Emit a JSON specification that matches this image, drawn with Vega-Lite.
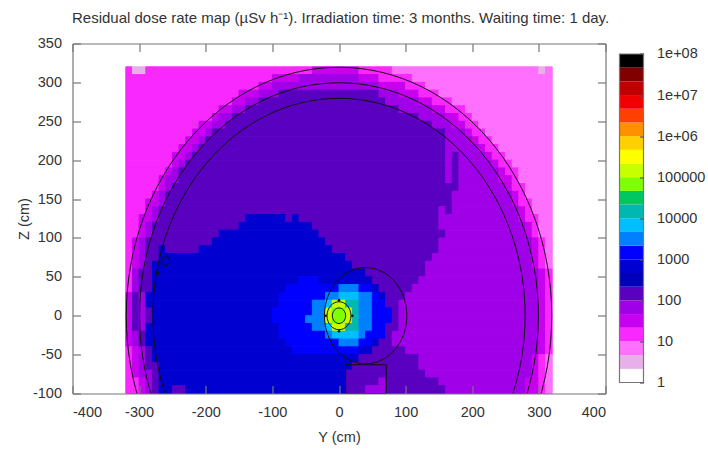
{"$schema":"https://vega.github.io/schema/vega-lite/v6.json","padding":{"left":15.5,"top":10.5,"right":0,"bottom":8},"background":"white","config":{"view":{"stroke":null},"font":"Liberation Sans","axis":{"labelFont":"Liberation Sans","titleFont":"Liberation Sans","labelFontSize":14.5,"titleFontSize":14.5,"labelColor":"#333","titleColor":"#333","titleFontWeight":"normal","grid":false,"domainColor":"#777","tickColor":"#777","domainWidth":1.2,"tickWidth":1.2}},"title":{"text":"Residual dose rate map (µSv h⁻¹). Irradiation time: 3 months. Waiting time: 1 day.","fontSize":15,"fontWeight":"normal","color":"#333","font":"Liberation Sans","anchor":"start","offset":9.5,"dx":55.5},"spacing":12,"hconcat":[{"width":533,"height":350,"resolve":{"axis":{"x":"independent","y":"independent"}},"layer":[{"data":{"values":[
{"x":-320,"x2":-310,"z":310,"z2":320,"d":15},{"x":-310,"x2":-290,"z":310,"z2":320,"d":3},{"x":-290,"x2":-40,"z":310,"z2":320,"d":15},{"x":-40,"x2":30,"z":310,"z2":320,"d":30},{"x":30,"x2":80,"z":310,"z2":320,"d":15},{"x":80,"x2":300,"z":310,"z2":320,"d":7},{"x":300,"x2":310,"z":310,"z2":320,"d":3},{"x":310,"x2":320,"z":310,"z2":320,"d":7},
{"x":-320,"x2":-100,"z":300,"z2":310,"d":15},{"x":-100,"x2":-60,"z":300,"z2":310,"d":30},{"x":-60,"x2":30,"z":300,"z2":310,"d":70},{"x":30,"x2":60,"z":300,"z2":310,"d":30},{"x":60,"x2":110,"z":300,"z2":310,"d":15},{"x":110,"x2":320,"z":300,"z2":310,"d":7},
{"x":-320,"x2":-120,"z":290,"z2":300,"d":15},{"x":-120,"x2":-100,"z":290,"z2":300,"d":30},{"x":-100,"x2":60,"z":290,"z2":300,"d":70},{"x":60,"x2":100,"z":290,"z2":300,"d":30},{"x":100,"x2":130,"z":290,"z2":300,"d":15},{"x":130,"x2":320,"z":290,"z2":300,"d":7},
{"x":-320,"x2":-150,"z":280,"z2":290,"d":15},{"x":-150,"x2":-120,"z":280,"z2":290,"d":30},{"x":-120,"x2":-90,"z":280,"z2":290,"d":70},{"x":-90,"x2":60,"z":280,"z2":290,"d":150},{"x":60,"x2":90,"z":280,"z2":290,"d":70},{"x":90,"x2":120,"z":280,"z2":290,"d":30},{"x":120,"x2":150,"z":280,"z2":290,"d":15},{"x":150,"x2":320,"z":280,"z2":290,"d":7},
{"x":-320,"x2":-160,"z":270,"z2":280,"d":15},{"x":-160,"x2":-140,"z":270,"z2":280,"d":30},{"x":-140,"x2":-120,"z":270,"z2":280,"d":70},{"x":-120,"x2":70,"z":270,"z2":280,"d":150},{"x":70,"x2":120,"z":270,"z2":280,"d":70},{"x":120,"x2":140,"z":270,"z2":280,"d":30},{"x":140,"x2":170,"z":270,"z2":280,"d":15},{"x":170,"x2":320,"z":270,"z2":280,"d":7},
{"x":-320,"x2":-180,"z":260,"z2":270,"d":15},{"x":-180,"x2":-160,"z":260,"z2":270,"d":30},{"x":-160,"x2":-140,"z":260,"z2":270,"d":70},{"x":-140,"x2":90,"z":260,"z2":270,"d":150},{"x":90,"x2":140,"z":260,"z2":270,"d":70},{"x":140,"x2":160,"z":260,"z2":270,"d":30},{"x":160,"x2":190,"z":260,"z2":270,"d":15},{"x":190,"x2":320,"z":260,"z2":270,"d":7},
{"x":-320,"x2":-190,"z":250,"z2":260,"d":15},{"x":-190,"x2":-180,"z":250,"z2":260,"d":30},{"x":-180,"x2":-160,"z":250,"z2":260,"d":70},{"x":-160,"x2":120,"z":250,"z2":260,"d":150},{"x":120,"x2":160,"z":250,"z2":260,"d":70},{"x":160,"x2":180,"z":250,"z2":260,"d":30},{"x":180,"x2":200,"z":250,"z2":260,"d":15},{"x":200,"x2":320,"z":250,"z2":260,"d":7},
{"x":-320,"x2":-210,"z":240,"z2":250,"d":15},{"x":-210,"x2":-190,"z":240,"z2":250,"d":30},{"x":-190,"x2":-170,"z":240,"z2":250,"d":70},{"x":-170,"x2":140,"z":240,"z2":250,"d":150},{"x":140,"x2":170,"z":240,"z2":250,"d":70},{"x":170,"x2":190,"z":240,"z2":250,"d":30},{"x":190,"x2":210,"z":240,"z2":250,"d":15},{"x":210,"x2":320,"z":240,"z2":250,"d":7},
{"x":-320,"x2":-220,"z":230,"z2":240,"d":15},{"x":-220,"x2":-200,"z":230,"z2":240,"d":30},{"x":-200,"x2":-190,"z":230,"z2":240,"d":70},{"x":-190,"x2":160,"z":230,"z2":240,"d":150},{"x":160,"x2":190,"z":230,"z2":240,"d":70},{"x":190,"x2":200,"z":230,"z2":240,"d":30},{"x":200,"x2":220,"z":230,"z2":240,"d":15},{"x":220,"x2":320,"z":230,"z2":240,"d":7},
{"x":-320,"x2":-230,"z":220,"z2":230,"d":15},{"x":-230,"x2":-210,"z":220,"z2":230,"d":30},{"x":-210,"x2":-200,"z":220,"z2":230,"d":70},{"x":-200,"x2":160,"z":220,"z2":230,"d":150},{"x":160,"x2":200,"z":220,"z2":230,"d":70},{"x":200,"x2":210,"z":220,"z2":230,"d":30},{"x":210,"x2":230,"z":220,"z2":230,"d":15},{"x":230,"x2":320,"z":220,"z2":230,"d":7},
{"x":-320,"x2":-240,"z":210,"z2":220,"d":15},{"x":-240,"x2":-220,"z":210,"z2":220,"d":30},{"x":-220,"x2":-210,"z":210,"z2":220,"d":70},{"x":-210,"x2":160,"z":210,"z2":220,"d":150},{"x":160,"x2":210,"z":210,"z2":220,"d":70},{"x":210,"x2":220,"z":210,"z2":220,"d":30},{"x":220,"x2":240,"z":210,"z2":220,"d":15},{"x":240,"x2":320,"z":210,"z2":220,"d":7},
{"x":-320,"x2":-250,"z":200,"z2":210,"d":15},{"x":-250,"x2":-230,"z":200,"z2":210,"d":30},{"x":-230,"x2":-220,"z":200,"z2":210,"d":70},{"x":-220,"x2":160,"z":200,"z2":210,"d":150},{"x":160,"x2":170,"z":200,"z2":210,"d":70},{"x":170,"x2":180,"z":200,"z2":210,"d":150},{"x":180,"x2":220,"z":200,"z2":210,"d":70},{"x":220,"x2":230,"z":200,"z2":210,"d":30},{"x":230,"x2":250,"z":200,"z2":210,"d":15},{"x":250,"x2":320,"z":200,"z2":210,"d":7},
{"x":-320,"x2":-250,"z":190,"z2":200,"d":15},{"x":-250,"x2":-240,"z":190,"z2":200,"d":30},{"x":-240,"x2":-230,"z":190,"z2":200,"d":70},{"x":-230,"x2":160,"z":190,"z2":200,"d":150},{"x":160,"x2":170,"z":190,"z2":200,"d":70},{"x":170,"x2":180,"z":190,"z2":200,"d":150},{"x":180,"x2":230,"z":190,"z2":200,"d":70},{"x":230,"x2":240,"z":190,"z2":200,"d":30},{"x":240,"x2":260,"z":190,"z2":200,"d":15},{"x":260,"x2":320,"z":190,"z2":200,"d":7},
{"x":-320,"x2":-260,"z":180,"z2":190,"d":15},{"x":-260,"x2":-250,"z":180,"z2":190,"d":30},{"x":-250,"x2":-240,"z":180,"z2":190,"d":70},{"x":-240,"x2":160,"z":180,"z2":190,"d":150},{"x":160,"x2":170,"z":180,"z2":190,"d":70},{"x":170,"x2":180,"z":180,"z2":190,"d":150},{"x":180,"x2":240,"z":180,"z2":190,"d":70},{"x":240,"x2":250,"z":180,"z2":190,"d":30},{"x":250,"x2":270,"z":180,"z2":190,"d":15},{"x":270,"x2":320,"z":180,"z2":190,"d":7},
{"x":-320,"x2":-270,"z":170,"z2":180,"d":15},{"x":-270,"x2":-260,"z":170,"z2":180,"d":30},{"x":-260,"x2":-240,"z":170,"z2":180,"d":70},{"x":-240,"x2":160,"z":170,"z2":180,"d":150},{"x":160,"x2":170,"z":170,"z2":180,"d":70},{"x":170,"x2":180,"z":170,"z2":180,"d":150},{"x":180,"x2":240,"z":170,"z2":180,"d":70},{"x":240,"x2":260,"z":170,"z2":180,"d":30},{"x":260,"x2":270,"z":170,"z2":180,"d":15},{"x":270,"x2":320,"z":170,"z2":180,"d":7},
{"x":-320,"x2":-270,"z":160,"z2":170,"d":15},{"x":-270,"x2":-260,"z":160,"z2":170,"d":30},{"x":-260,"x2":-250,"z":160,"z2":170,"d":70},{"x":-250,"x2":180,"z":160,"z2":170,"d":150},{"x":180,"x2":250,"z":160,"z2":170,"d":70},{"x":250,"x2":260,"z":160,"z2":170,"d":30},{"x":260,"x2":280,"z":160,"z2":170,"d":15},{"x":280,"x2":320,"z":160,"z2":170,"d":7},
{"x":-320,"x2":-280,"z":150,"z2":160,"d":15},{"x":-280,"x2":-270,"z":150,"z2":160,"d":30},{"x":-270,"x2":-260,"z":150,"z2":160,"d":70},{"x":-260,"x2":170,"z":150,"z2":160,"d":150},{"x":170,"x2":260,"z":150,"z2":160,"d":70},{"x":260,"x2":270,"z":150,"z2":160,"d":30},{"x":270,"x2":280,"z":150,"z2":160,"d":15},{"x":280,"x2":320,"z":150,"z2":160,"d":7},
{"x":-320,"x2":-290,"z":140,"z2":150,"d":15},{"x":-290,"x2":-270,"z":140,"z2":150,"d":30},{"x":-270,"x2":-260,"z":140,"z2":150,"d":70},{"x":-260,"x2":170,"z":140,"z2":150,"d":150},{"x":170,"x2":260,"z":140,"z2":150,"d":70},{"x":260,"x2":270,"z":140,"z2":150,"d":30},{"x":270,"x2":290,"z":140,"z2":150,"d":15},{"x":290,"x2":320,"z":140,"z2":150,"d":7},
{"x":-320,"x2":-290,"z":130,"z2":140,"d":15},{"x":-290,"x2":-280,"z":130,"z2":140,"d":30},{"x":-280,"x2":-270,"z":130,"z2":140,"d":70},{"x":-270,"x2":150,"z":130,"z2":140,"d":150},{"x":150,"x2":160,"z":130,"z2":140,"d":70},{"x":160,"x2":170,"z":130,"z2":140,"d":150},{"x":170,"x2":270,"z":130,"z2":140,"d":70},{"x":270,"x2":280,"z":130,"z2":140,"d":30},{"x":280,"x2":290,"z":130,"z2":140,"d":15},{"x":290,"x2":320,"z":130,"z2":140,"d":7},
{"x":-320,"x2":-300,"z":120,"z2":130,"d":15},{"x":-300,"x2":-280,"z":120,"z2":130,"d":30},{"x":-280,"x2":-270,"z":120,"z2":130,"d":70},{"x":-270,"x2":-140,"z":120,"z2":130,"d":150},{"x":-140,"x2":-80,"z":120,"z2":130,"d":700},{"x":-80,"x2":-70,"z":120,"z2":130,"d":150},{"x":-70,"x2":-60,"z":120,"z2":130,"d":700},{"x":-60,"x2":150,"z":120,"z2":130,"d":150},{"x":150,"x2":270,"z":120,"z2":130,"d":70},{"x":270,"x2":280,"z":120,"z2":130,"d":30},{"x":280,"x2":300,"z":120,"z2":130,"d":15},{"x":300,"x2":320,"z":120,"z2":130,"d":7},
{"x":-320,"x2":-300,"z":110,"z2":120,"d":15},{"x":-300,"x2":-290,"z":110,"z2":120,"d":30},{"x":-290,"x2":-280,"z":110,"z2":120,"d":70},{"x":-280,"x2":-150,"z":110,"z2":120,"d":150},{"x":-150,"x2":-40,"z":110,"z2":120,"d":700},{"x":-40,"x2":150,"z":110,"z2":120,"d":150},{"x":150,"x2":280,"z":110,"z2":120,"d":70},{"x":280,"x2":290,"z":110,"z2":120,"d":30},{"x":290,"x2":300,"z":110,"z2":120,"d":15},{"x":300,"x2":320,"z":110,"z2":120,"d":7},
{"x":-320,"x2":-300,"z":100,"z2":110,"d":15},{"x":-300,"x2":-290,"z":100,"z2":110,"d":30},{"x":-290,"x2":-280,"z":100,"z2":110,"d":70},{"x":-280,"x2":-180,"z":100,"z2":110,"d":150},{"x":-180,"x2":-30,"z":100,"z2":110,"d":700},{"x":-30,"x2":160,"z":100,"z2":110,"d":150},{"x":160,"x2":280,"z":100,"z2":110,"d":70},{"x":280,"x2":290,"z":100,"z2":110,"d":30},{"x":290,"x2":300,"z":100,"z2":110,"d":15},{"x":300,"x2":320,"z":100,"z2":110,"d":7},
{"x":-320,"x2":-310,"z":90,"z2":100,"d":15},{"x":-310,"x2":-300,"z":90,"z2":100,"d":30},{"x":-300,"x2":-290,"z":90,"z2":100,"d":70},{"x":-290,"x2":-190,"z":90,"z2":100,"d":150},{"x":-190,"x2":-20,"z":90,"z2":100,"d":700},{"x":-20,"x2":150,"z":90,"z2":100,"d":150},{"x":150,"x2":290,"z":90,"z2":100,"d":70},{"x":290,"x2":300,"z":90,"z2":100,"d":30},{"x":300,"x2":310,"z":90,"z2":100,"d":15},{"x":310,"x2":320,"z":90,"z2":100,"d":7},
{"x":-320,"x2":-310,"z":80,"z2":90,"d":15},{"x":-310,"x2":-300,"z":80,"z2":90,"d":30},{"x":-300,"x2":-290,"z":80,"z2":90,"d":70},{"x":-290,"x2":-270,"z":80,"z2":90,"d":150},{"x":-270,"x2":-260,"z":80,"z2":90,"d":700},{"x":-260,"x2":-210,"z":80,"z2":90,"d":150},{"x":-210,"x2":-10,"z":80,"z2":90,"d":700},{"x":-10,"x2":150,"z":80,"z2":90,"d":150},{"x":150,"x2":290,"z":80,"z2":90,"d":70},{"x":290,"x2":300,"z":80,"z2":90,"d":30},{"x":300,"x2":310,"z":80,"z2":90,"d":15},{"x":310,"x2":320,"z":80,"z2":90,"d":7},
{"x":-320,"x2":-310,"z":70,"z2":80,"d":15},{"x":-310,"x2":-300,"z":70,"z2":80,"d":30},{"x":-300,"x2":-290,"z":70,"z2":80,"d":70},{"x":-290,"x2":-270,"z":70,"z2":80,"d":150},{"x":-270,"x2":10,"z":70,"z2":80,"d":700},{"x":10,"x2":140,"z":70,"z2":80,"d":150},{"x":140,"x2":290,"z":70,"z2":80,"d":70},{"x":290,"x2":300,"z":70,"z2":80,"d":30},{"x":300,"x2":310,"z":70,"z2":80,"d":15},{"x":310,"x2":320,"z":70,"z2":80,"d":7},
{"x":-320,"x2":-310,"z":60,"z2":70,"d":15},{"x":-310,"x2":-300,"z":60,"z2":70,"d":30},{"x":-300,"x2":-290,"z":60,"z2":70,"d":70},{"x":-290,"x2":-280,"z":60,"z2":70,"d":150},{"x":-280,"x2":20,"z":60,"z2":70,"d":700},{"x":20,"x2":130,"z":60,"z2":70,"d":150},{"x":130,"x2":290,"z":60,"z2":70,"d":70},{"x":290,"x2":300,"z":60,"z2":70,"d":30},{"x":300,"x2":310,"z":60,"z2":70,"d":15},{"x":310,"x2":320,"z":60,"z2":70,"d":7},
{"x":-320,"x2":-310,"z":50,"z2":60,"d":15},{"x":-310,"x2":-300,"z":50,"z2":60,"d":70},{"x":-300,"x2":-280,"z":50,"z2":60,"d":150},{"x":-280,"x2":40,"z":50,"z2":60,"d":700},{"x":40,"x2":130,"z":50,"z2":60,"d":150},{"x":130,"x2":300,"z":50,"z2":60,"d":70},{"x":300,"x2":310,"z":50,"z2":60,"d":30},{"x":310,"x2":320,"z":50,"z2":60,"d":15},
{"x":-320,"x2":-310,"z":40,"z2":50,"d":15},{"x":-310,"x2":-300,"z":40,"z2":50,"d":70},{"x":-300,"x2":-280,"z":40,"z2":50,"d":150},{"x":-280,"x2":-60,"z":40,"z2":50,"d":700},{"x":-60,"x2":-30,"z":40,"z2":50,"d":1500},{"x":-30,"x2":50,"z":40,"z2":50,"d":700},{"x":50,"x2":120,"z":40,"z2":50,"d":150},{"x":120,"x2":300,"z":40,"z2":50,"d":70},{"x":300,"x2":310,"z":40,"z2":50,"d":30},{"x":310,"x2":320,"z":40,"z2":50,"d":15},
{"x":-320,"x2":-310,"z":30,"z2":40,"d":15},{"x":-310,"x2":-300,"z":30,"z2":40,"d":70},{"x":-300,"x2":-280,"z":30,"z2":40,"d":150},{"x":-280,"x2":-80,"z":30,"z2":40,"d":700},{"x":-80,"x2":0,"z":30,"z2":40,"d":1500},{"x":0,"x2":30,"z":30,"z2":40,"d":3000},{"x":30,"x2":50,"z":30,"z2":40,"d":1500},{"x":50,"x2":60,"z":30,"z2":40,"d":700},{"x":60,"x2":110,"z":30,"z2":40,"d":150},{"x":110,"x2":300,"z":30,"z2":40,"d":70},{"x":300,"x2":310,"z":30,"z2":40,"d":30},{"x":310,"x2":320,"z":30,"z2":40,"d":15},
{"x":-320,"x2":-310,"z":20,"z2":30,"d":30},{"x":-310,"x2":-300,"z":20,"z2":30,"d":150},{"x":-300,"x2":-290,"z":20,"z2":30,"d":70},{"x":-290,"x2":-90,"z":20,"z2":30,"d":700},{"x":-90,"x2":-20,"z":20,"z2":30,"d":1500},{"x":-20,"x2":0,"z":20,"z2":30,"d":3000},{"x":0,"x2":30,"z":20,"z2":30,"d":7000},{"x":30,"x2":50,"z":20,"z2":30,"d":3000},{"x":50,"x2":60,"z":20,"z2":30,"d":1500},{"x":60,"x2":70,"z":20,"z2":30,"d":700},{"x":70,"x2":100,"z":20,"z2":30,"d":150},{"x":100,"x2":300,"z":20,"z2":30,"d":70},{"x":300,"x2":310,"z":20,"z2":30,"d":30},{"x":310,"x2":320,"z":20,"z2":30,"d":15},
{"x":-320,"x2":-310,"z":10,"z2":20,"d":30},{"x":-310,"x2":-300,"z":10,"z2":20,"d":150},{"x":-300,"x2":-290,"z":10,"z2":20,"d":70},{"x":-290,"x2":-90,"z":10,"z2":20,"d":700},{"x":-90,"x2":-40,"z":10,"z2":20,"d":1500},{"x":-40,"x2":-20,"z":10,"z2":20,"d":3000},{"x":-20,"x2":-10,"z":10,"z2":20,"d":7000},{"x":-10,"x2":10,"z":10,"z2":20,"d":150000},{"x":10,"x2":30,"z":10,"z2":20,"d":15000},{"x":30,"x2":50,"z":10,"z2":20,"d":3000},{"x":50,"x2":70,"z":10,"z2":20,"d":1500},{"x":70,"x2":90,"z":10,"z2":20,"d":150},{"x":90,"x2":300,"z":10,"z2":20,"d":70},{"x":300,"x2":310,"z":10,"z2":20,"d":30},{"x":310,"x2":320,"z":10,"z2":20,"d":15},
{"x":-320,"x2":-310,"z":0,"z2":10,"d":30},{"x":-310,"x2":-300,"z":0,"z2":10,"d":150},{"x":-300,"x2":-290,"z":0,"z2":10,"d":70},{"x":-290,"x2":-280,"z":0,"z2":10,"d":150},{"x":-280,"x2":-100,"z":0,"z2":10,"d":700},{"x":-100,"x2":-40,"z":0,"z2":10,"d":1500},{"x":-40,"x2":-20,"z":0,"z2":10,"d":3000},{"x":-20,"x2":-10,"z":0,"z2":10,"d":150000},{"x":-10,"x2":10,"z":0,"z2":10,"d":70000},{"x":10,"x2":20,"z":0,"z2":10,"d":150000},{"x":20,"x2":30,"z":0,"z2":10,"d":15000},{"x":30,"x2":50,"z":0,"z2":10,"d":3000},{"x":50,"x2":80,"z":0,"z2":10,"d":1500},{"x":80,"x2":90,"z":0,"z2":10,"d":150},{"x":90,"x2":300,"z":0,"z2":10,"d":70},{"x":300,"x2":310,"z":0,"z2":10,"d":30},{"x":310,"x2":320,"z":0,"z2":10,"d":15},
{"x":-320,"x2":-310,"z":-10,"z2":0,"d":30},{"x":-310,"x2":-300,"z":-10,"z2":0,"d":150},{"x":-300,"x2":-290,"z":-10,"z2":0,"d":70},{"x":-290,"x2":-280,"z":-10,"z2":0,"d":150},{"x":-280,"x2":-100,"z":-10,"z2":0,"d":700},{"x":-100,"x2":-50,"z":-10,"z2":0,"d":1500},{"x":-50,"x2":-20,"z":-10,"z2":0,"d":3000},{"x":-20,"x2":-10,"z":-10,"z2":0,"d":150000},{"x":-10,"x2":10,"z":-10,"z2":0,"d":70000},{"x":10,"x2":20,"z":-10,"z2":0,"d":150000},{"x":20,"x2":30,"z":-10,"z2":0,"d":15000},{"x":30,"x2":50,"z":-10,"z2":0,"d":3000},{"x":50,"x2":80,"z":-10,"z2":0,"d":1500},{"x":80,"x2":90,"z":-10,"z2":0,"d":150},{"x":90,"x2":300,"z":-10,"z2":0,"d":70},{"x":300,"x2":310,"z":-10,"z2":0,"d":30},{"x":310,"x2":320,"z":-10,"z2":0,"d":15},
{"x":-320,"x2":-310,"z":-20,"z2":-10,"d":30},{"x":-310,"x2":-300,"z":-20,"z2":-10,"d":150},{"x":-300,"x2":-290,"z":-20,"z2":-10,"d":70},{"x":-290,"x2":-90,"z":-20,"z2":-10,"d":700},{"x":-90,"x2":-40,"z":-20,"z2":-10,"d":1500},{"x":-40,"x2":-20,"z":-20,"z2":-10,"d":3000},{"x":-20,"x2":-10,"z":-20,"z2":-10,"d":7000},{"x":-10,"x2":10,"z":-20,"z2":-10,"d":150000},{"x":10,"x2":30,"z":-20,"z2":-10,"d":15000},{"x":30,"x2":50,"z":-20,"z2":-10,"d":3000},{"x":50,"x2":70,"z":-20,"z2":-10,"d":1500},{"x":70,"x2":90,"z":-20,"z2":-10,"d":150},{"x":90,"x2":300,"z":-20,"z2":-10,"d":70},{"x":300,"x2":310,"z":-20,"z2":-10,"d":30},{"x":310,"x2":320,"z":-20,"z2":-10,"d":15},
{"x":-320,"x2":-310,"z":-30,"z2":-20,"d":30},{"x":-310,"x2":-300,"z":-30,"z2":-20,"d":70},{"x":-300,"x2":-290,"z":-30,"z2":-20,"d":150},{"x":-290,"x2":-90,"z":-30,"z2":-20,"d":700},{"x":-90,"x2":-20,"z":-30,"z2":-20,"d":1500},{"x":-20,"x2":-10,"z":-30,"z2":-20,"d":3000},{"x":-10,"x2":30,"z":-30,"z2":-20,"d":7000},{"x":30,"x2":40,"z":-30,"z2":-20,"d":3000},{"x":40,"x2":70,"z":-30,"z2":-20,"d":1500},{"x":70,"x2":80,"z":-30,"z2":-20,"d":150},{"x":80,"x2":300,"z":-30,"z2":-20,"d":70},{"x":300,"x2":310,"z":-30,"z2":-20,"d":30},{"x":310,"x2":320,"z":-30,"z2":-20,"d":15},
{"x":-320,"x2":-310,"z":-40,"z2":-30,"d":30},{"x":-310,"x2":-300,"z":-40,"z2":-30,"d":70},{"x":-300,"x2":-290,"z":-40,"z2":-30,"d":150},{"x":-290,"x2":-80,"z":-40,"z2":-30,"d":700},{"x":-80,"x2":0,"z":-40,"z2":-30,"d":1500},{"x":0,"x2":30,"z":-40,"z2":-30,"d":3000},{"x":30,"x2":50,"z":-40,"z2":-30,"d":1500},{"x":50,"x2":60,"z":-40,"z2":-30,"d":700},{"x":60,"x2":80,"z":-40,"z2":-30,"d":150},{"x":80,"x2":300,"z":-40,"z2":-30,"d":70},{"x":300,"x2":310,"z":-40,"z2":-30,"d":30},{"x":310,"x2":320,"z":-40,"z2":-30,"d":15},
{"x":-320,"x2":-310,"z":-50,"z2":-40,"d":15},{"x":-310,"x2":-300,"z":-50,"z2":-40,"d":30},{"x":-300,"x2":-290,"z":-50,"z2":-40,"d":70},{"x":-290,"x2":-280,"z":-50,"z2":-40,"d":150},{"x":-280,"x2":-70,"z":-50,"z2":-40,"d":700},{"x":-70,"x2":30,"z":-50,"z2":-40,"d":1500},{"x":30,"x2":50,"z":-50,"z2":-40,"d":700},{"x":50,"x2":100,"z":-50,"z2":-40,"d":150},{"x":100,"x2":300,"z":-50,"z2":-40,"d":70},{"x":300,"x2":310,"z":-50,"z2":-40,"d":30},{"x":310,"x2":320,"z":-50,"z2":-40,"d":15},
{"x":-320,"x2":-310,"z":-60,"z2":-50,"d":15},{"x":-310,"x2":-300,"z":-60,"z2":-50,"d":30},{"x":-300,"x2":-290,"z":-60,"z2":-50,"d":70},{"x":-290,"x2":-280,"z":-60,"z2":-50,"d":150},{"x":-280,"x2":30,"z":-60,"z2":-50,"d":700},{"x":30,"x2":120,"z":-60,"z2":-50,"d":150},{"x":120,"x2":290,"z":-60,"z2":-50,"d":70},{"x":290,"x2":300,"z":-60,"z2":-50,"d":30},{"x":300,"x2":310,"z":-60,"z2":-50,"d":15},{"x":310,"x2":320,"z":-60,"z2":-50,"d":7},
{"x":-320,"x2":-310,"z":-70,"z2":-60,"d":15},{"x":-310,"x2":-300,"z":-70,"z2":-60,"d":30},{"x":-300,"x2":-290,"z":-70,"z2":-60,"d":70},{"x":-290,"x2":-270,"z":-70,"z2":-60,"d":150},{"x":-270,"x2":20,"z":-70,"z2":-60,"d":700},{"x":20,"x2":120,"z":-70,"z2":-60,"d":150},{"x":120,"x2":290,"z":-70,"z2":-60,"d":70},{"x":290,"x2":300,"z":-70,"z2":-60,"d":30},{"x":300,"x2":310,"z":-70,"z2":-60,"d":15},{"x":310,"x2":320,"z":-70,"z2":-60,"d":7},
{"x":-320,"x2":-310,"z":-80,"z2":-70,"d":15},{"x":-310,"x2":-300,"z":-80,"z2":-70,"d":30},{"x":-300,"x2":-280,"z":-80,"z2":-70,"d":70},{"x":-280,"x2":-270,"z":-80,"z2":-70,"d":150},{"x":-270,"x2":10,"z":-80,"z2":-70,"d":700},{"x":10,"x2":130,"z":-80,"z2":-70,"d":150},{"x":130,"x2":290,"z":-80,"z2":-70,"d":70},{"x":290,"x2":300,"z":-80,"z2":-70,"d":30},{"x":300,"x2":310,"z":-80,"z2":-70,"d":15},{"x":310,"x2":320,"z":-80,"z2":-70,"d":7},
{"x":-320,"x2":-300,"z":-90,"z2":-80,"d":15},{"x":-300,"x2":-290,"z":-90,"z2":-80,"d":30},{"x":-290,"x2":-280,"z":-90,"z2":-80,"d":70},{"x":-280,"x2":-270,"z":-90,"z2":-80,"d":150},{"x":-270,"x2":10,"z":-90,"z2":-80,"d":700},{"x":10,"x2":60,"z":-90,"z2":-80,"d":150},{"x":60,"x2":70,"z":-90,"z2":-80,"d":70},{"x":70,"x2":150,"z":-90,"z2":-80,"d":150},{"x":150,"x2":280,"z":-90,"z2":-80,"d":70},{"x":280,"x2":300,"z":-90,"z2":-80,"d":30},{"x":300,"x2":310,"z":-90,"z2":-80,"d":15},{"x":310,"x2":320,"z":-90,"z2":-80,"d":7},
{"x":-320,"x2":-300,"z":-100,"z2":-90,"d":15},{"x":-300,"x2":-290,"z":-100,"z2":-90,"d":30},{"x":-290,"x2":-280,"z":-100,"z2":-90,"d":70},{"x":-280,"x2":-270,"z":-100,"z2":-90,"d":150},{"x":-270,"x2":-250,"z":-100,"z2":-90,"d":700},{"x":-250,"x2":-230,"z":-100,"z2":-90,"d":150},{"x":-230,"x2":10,"z":-100,"z2":-90,"d":700},{"x":10,"x2":40,"z":-100,"z2":-90,"d":150},{"x":40,"x2":70,"z":-100,"z2":-90,"d":70},{"x":70,"x2":160,"z":-100,"z2":-90,"d":150},{"x":160,"x2":280,"z":-100,"z2":-90,"d":70},{"x":280,"x2":300,"z":-100,"z2":-90,"d":30},{"x":300,"x2":310,"z":-100,"z2":-90,"d":15},{"x":310,"x2":320,"z":-100,"z2":-90,"d":7}
]},"mark":{"type":"rect","strokeWidth":1},"encoding":{"x":{"field":"x","type":"quantitative","scale":{"domain":[-400,400],"nice":false},"axis":{"title":"Y (cm)","values":[-400,-300,-200,-100,0,100,200,300,400],"labelExpr":"'' + datum.value","tickSize":-8,"labelPadding":20,"titlePadding":11.5,"zindex":1}},"x2":{"field":"x2"},"y":{"field":"z","type":"quantitative","scale":{"domain":[-100,350],"nice":false},"axis":{"title":"Z (cm)","values":[-100,-50,0,50,100,150,200,250,300,350],"labelExpr":"'' + datum.value","tickSize":-8,"labelPadding":19,"titlePadding":1,"zindex":1}},"y2":{"field":"z2"},"color":{"field":"d","type":"quantitative","scale":{"type":"threshold","domain":[2.15,4.64,10,21.5,46.4,100,215,464,1000,2150,4640,10000,21500,46400,100000,215000,464000,1000000,2150000,4640000,10000000,21500000,46400000],"range":["#ffffff","#e8b0e8","#ff70ff","#f828ff","#c800f0","#a000e8","#5a00c0","#0000b8","#0000d0","#0000ff","#0080ff","#00bfff","#00b8b0","#00c860","#80ff00","#c8ff00","#ffff00","#ffd000","#ff9000","#ff4000","#f00000","#c00000","#800000","#000000"]},"legend":null},"stroke":{"field":"d","type":"quantitative","scale":{"type":"threshold","domain":[2.15,4.64,10,21.5,46.4,100,215,464,1000,2150,4640,10000,21500,46400,100000,215000,464000,1000000,2150000,4640000,10000000,21500000,46400000],"range":["#ffffff","#e8b0e8","#ff70ff","#f828ff","#c800f0","#a000e8","#5a00c0","#0000b8","#0000d0","#0000ff","#0080ff","#00bfff","#00b8b0","#00c860","#80ff00","#c8ff00","#ffff00","#ffd000","#ff9000","#ff4000","#f00000","#c00000","#800000","#000000"]},"legend":null}}},
{"data":{"values":[{"x":0,"z":0,"r":320},{"x":0,"z":0,"r":300},{"x":0,"z":0,"r":280},{"x":40,"z":0,"r":62},{"x":0,"z":0,"r":18},{"x":0,"z":0,"r":10},{"x":-260,"z":70,"r":6}]},"mark":{"type":"point","filled":false,"clip":true,"stroke":"#111","strokeWidth":1,"opacity":1,"shape":"M1,0 C1,0.645 0.552,1.168 0,1.168 C-0.552,1.168 -1,0.645 -1,0 C-1,-0.645 -0.552,-1.168 0,-1.168 C0.552,-1.168 1,-0.645 1,0 Z"},"encoding":{"x":{"field":"x","type":"quantitative","scale":{"domain":[-400,400],"nice":false},"axis":{"orient":"top","title":null,"labels":false,"values":[-400,-300,-200,-100,0,100,200,300,400],"tickSize":-8,"zindex":1}},"y":{"field":"z","type":"quantitative","scale":{"domain":[-100,350],"nice":false},"axis":{"orient":"right","title":null,"labels":false,"values":[-100,-50,0,50,100,150,200,250,300,350],"tickSize":-8,"zindex":1}},"size":{"field":"r","type":"quantitative","scale":{"type":"pow","exponent":2,"domain":[0,320],"range":[0,181000]},"legend":null}}},
{"data":{"values":[{"x":-20,"z":0},{"x":20,"z":0},{"x":0,"z":20},{"x":0,"z":-20},{"x":-272,"z":55}]},"mark":{"type":"point","filled":true,"color":"#111","size":7,"opacity":1},"encoding":{"x":{"field":"x","type":"quantitative","axis":null},"y":{"field":"z","type":"quantitative","axis":null}}},
{"data":{"values":[{"x":10,"x2":71,"z":-100,"z2":-63}]},"mark":{"type":"rect","fillOpacity":0,"stroke":"#111","strokeWidth":1},"encoding":{"x":{"field":"x","type":"quantitative","axis":null},"x2":{"field":"x2"},"y":{"field":"z","type":"quantitative","axis":null},"y2":{"field":"z2"}}}
]},
{"width":24,"height":350,"layer":[{"data":{"values":[{"lo":1,"hi":2.15,"d":1.5},{"lo":2.15,"hi":4.64,"d":3},{"lo":4.64,"hi":10,"d":7},{"lo":10,"hi":21.5,"d":15},{"lo":21.5,"hi":46.4,"d":30},{"lo":46.4,"hi":100,"d":70},{"lo":100,"hi":215,"d":150},{"lo":215,"hi":464,"d":300},{"lo":464,"hi":1000,"d":700},{"lo":1000,"hi":2150,"d":1500},{"lo":2150,"hi":4640,"d":3000},{"lo":4640,"hi":10000,"d":7000},{"lo":10000,"hi":21500,"d":15000},{"lo":21500,"hi":46400,"d":30000},{"lo":46400,"hi":100000,"d":70000},{"lo":100000,"hi":215000,"d":150000},{"lo":215000,"hi":464000,"d":300000},{"lo":464000,"hi":1000000,"d":700000},{"lo":1000000,"hi":2150000,"d":1500000},{"lo":2150000,"hi":4640000,"d":3000000},{"lo":4640000,"hi":10000000,"d":7000000},{"lo":10000000,"hi":21500000,"d":15000000},{"lo":21500000,"hi":46400000,"d":30000000},{"lo":46400000,"hi":100000000,"d":70000000}]},"mark":{"type":"rect"},"encoding":{"y":{"field":"lo","type":"quantitative","scale":{"type":"log","domain":[0.54,180000000],"nice":false},"axis":{"orient":"right","title":null,"values":[1,10,100,1000,10000,100000,1000000,10000000,100000000],"labelExpr":"datum.value >= 1000000 ? '1e+0' + round(log(datum.value)/LN10) : format(datum.value,'d')","tickSize":-4,"labelPadding":17,"domain":false,"labelFontSize":14.5,"tickColor":"#555","zindex":1}},"y2":{"field":"hi"},"color":{"field":"d","type":"quantitative","scale":{"type":"threshold","domain":[2.15,4.64,10,21.5,46.4,100,215,464,1000,2150,4640,10000,21500,46400,100000,215000,464000,1000000,2150000,4640000,10000000,21500000,46400000],"range":["#ffffff","#e8b0e8","#ff70ff","#f828ff","#c800f0","#a000e8","#5a00c0","#0000b8","#0000d0","#0000ff","#0080ff","#00bfff","#00b8b0","#00c860","#80ff00","#c8ff00","#ffff00","#ffd000","#ff9000","#ff4000","#f00000","#c00000","#800000","#000000"]},"legend":null}}},
{"data":{"values":[{"lo":1,"hi":100000000}]},"mark":{"type":"rect","fillOpacity":0,"stroke":"#777","strokeWidth":1.2},"encoding":{"y":{"field":"lo","type":"quantitative"},"y2":{"field":"hi"}}}]}
]}
